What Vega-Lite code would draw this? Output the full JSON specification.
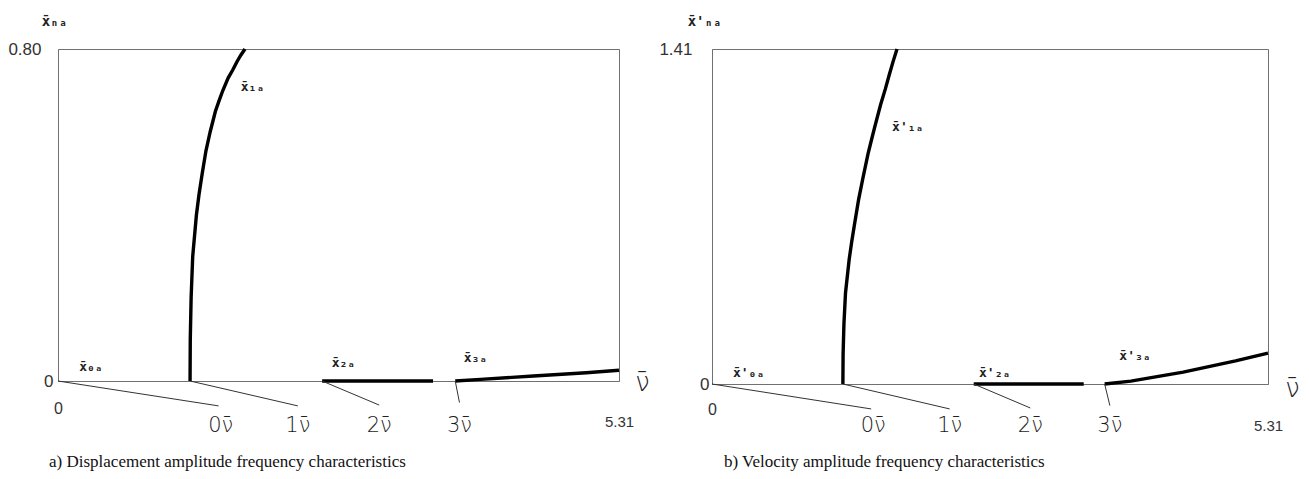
{
  "$schema": "https://vega.github.io/schema/vega-lite/v6.json",
  "padding": {"left": 7, "top": 13, "right": 5, "bottom": 5},
  "background": "white",
  "bounds": "flush",
  "spacing": 93,
  "config": {
    "view": {"stroke": "#707070", "strokeWidth": 1},
    "axis": {"grid": false, "ticks": false, "domainColor": "#707070", "domainWidth": 1, "labelFont": "Liberation Sans", "labelColor": "#333333", "labelFlush": false, "labelOverlap": false}
  },
  "datasets": {
    "dispCurves": [
      {"s": "x1a", "nu": 1.25, "amp": 0},
      {"s": "x1a", "nu": 1.252, "amp": 0.1},
      {"s": "x1a", "nu": 1.26, "amp": 0.2},
      {"s": "x1a", "nu": 1.275, "amp": 0.3},
      {"s": "x1a", "nu": 1.31, "amp": 0.4},
      {"s": "x1a", "nu": 1.335, "amp": 0.45},
      {"s": "x1a", "nu": 1.365, "amp": 0.5},
      {"s": "x1a", "nu": 1.4, "amp": 0.554},
      {"s": "x1a", "nu": 1.44, "amp": 0.6},
      {"s": "x1a", "nu": 1.49, "amp": 0.65},
      {"s": "x1a", "nu": 1.524, "amp": 0.675},
      {"s": "x1a", "nu": 1.56, "amp": 0.7},
      {"s": "x1a", "nu": 1.61, "amp": 0.73},
      {"s": "x1a", "nu": 1.655, "amp": 0.75},
      {"s": "x1a", "nu": 1.695, "amp": 0.77},
      {"s": "x1a", "nu": 1.73, "amp": 0.785},
      {"s": "x1a", "nu": 1.77, "amp": 0.8},
      {"s": "x2a", "nu": 2.5, "amp": 0},
      {"s": "x2a", "nu": 3.55, "amp": 0},
      {"s": "x3a", "nu": 3.76, "amp": 0},
      {"s": "x3a", "nu": 4.0, "amp": 0.004},
      {"s": "x3a", "nu": 4.5, "amp": 0.012},
      {"s": "x3a", "nu": 5.0, "amp": 0.02},
      {"s": "x3a", "nu": 5.31, "amp": 0.026}
    ],
    "velCurves": [
      {"s": "x1a", "nu": 1.25, "amp": 0},
      {"s": "x1a", "nu": 1.252, "amp": 0.125},
      {"s": "x1a", "nu": 1.26, "amp": 0.252},
      {"s": "x1a", "nu": 1.275, "amp": 0.383},
      {"s": "x1a", "nu": 1.31, "amp": 0.524},
      {"s": "x1a", "nu": 1.335, "amp": 0.601},
      {"s": "x1a", "nu": 1.365, "amp": 0.683},
      {"s": "x1a", "nu": 1.4, "amp": 0.776},
      {"s": "x1a", "nu": 1.44, "amp": 0.864},
      {"s": "x1a", "nu": 1.49, "amp": 0.969},
      {"s": "x1a", "nu": 1.524, "amp": 1.029},
      {"s": "x1a", "nu": 1.56, "amp": 1.092},
      {"s": "x1a", "nu": 1.61, "amp": 1.175},
      {"s": "x1a", "nu": 1.655, "amp": 1.241},
      {"s": "x1a", "nu": 1.695, "amp": 1.305},
      {"s": "x1a", "nu": 1.73, "amp": 1.358},
      {"s": "x1a", "nu": 1.767, "amp": 1.41},
      {"s": "x2a", "nu": 2.5, "amp": 0},
      {"s": "x2a", "nu": 3.55, "amp": 0},
      {"s": "x3a", "nu": 3.75, "amp": 0},
      {"s": "x3a", "nu": 4.0, "amp": 0.012},
      {"s": "x3a", "nu": 4.5, "amp": 0.05},
      {"s": "x3a", "nu": 5.0, "amp": 0.097},
      {"s": "x3a", "nu": 5.31, "amp": 0.13}
    ],
    "dispGuides": [
      {"nu": 0, "amp": 0, "nu2": 1.52, "amp2": -0.06},
      {"nu": 1.25, "amp": 0, "nu2": 2.27, "amp2": -0.06},
      {"nu": 2.5, "amp": 0, "nu2": 3.04, "amp2": -0.058},
      {"nu": 3.76, "amp": 0, "nu2": 3.8, "amp2": -0.052}
    ],
    "velGuides": [
      {"nu": 0, "amp": 0, "nu2": 1.52, "amp2": -0.105},
      {"nu": 1.25, "amp": 0, "nu2": 2.27, "amp2": -0.105},
      {"nu": 2.5, "amp": 0, "nu2": 3.04, "amp2": -0.101},
      {"nu": 3.75, "amp": 0, "nu2": 3.8, "amp2": -0.091}
    ],
    "dispNuLabels": [
      {"nu": 1.54, "amp": -0.108, "label": "0ν̄"},
      {"nu": 2.27, "amp": -0.108, "label": "1ν̄"},
      {"nu": 3.04, "amp": -0.108, "label": "2ν̄"},
      {"nu": 3.8, "amp": -0.108, "label": "3ν̄"}
    ],
    "velNuLabels": [
      {"nu": 1.54, "amp": -0.177, "label": "0ν̄"},
      {"nu": 2.27, "amp": -0.177, "label": "1ν̄"},
      {"nu": 3.04, "amp": -0.177, "label": "2ν̄"},
      {"nu": 3.8, "amp": -0.177, "label": "3ν̄"}
    ],
    "dispCurveLabels": [
      {"nu": 1.73, "amp": 0.708, "label": "x̄₁ₐ"},
      {"nu": 0.2, "amp": 0.034, "label": "x̄₀ₐ"},
      {"nu": 2.59, "amp": 0.043, "label": "x̄₂ₐ"},
      {"nu": 3.84, "amp": 0.055, "label": "x̄₃ₐ"}
    ],
    "velCurveLabels": [
      {"nu": 1.72, "amp": 1.08, "label": "x̄'₁ₐ"},
      {"nu": 0.2, "amp": 0.046, "label": "x̄'₀ₐ"},
      {"nu": 2.55, "amp": 0.046, "label": "x̄'₂ₐ"},
      {"nu": 3.89, "amp": 0.118, "label": "x̄'₃ₐ"}
    ]
  },
  "hconcat": [
    {
      "width": 561,
      "height": 332,
      "title": {"text": "a) Displacement amplitude frequency characteristics", "orient": "bottom", "anchor": "start", "frame": "group", "dx": -9, "offset": 18, "font": "Liberation Serif", "fontSize": 17, "fontWeight": "normal", "color": "#111111"},
      "layer": [
        {
          "data": {"name": "dispCurves"},
          "mark": {"type": "line", "color": "#000000", "strokeWidth": 3.4},
          "encoding": {
            "x": {"field": "nu", "type": "quantitative", "scale": {"domain": [0, 5.31], "nice": false, "zero": false},
              "axis": {"values": [0, 5.31], "labelExpr": "datum.value === 0 ? '0' : '5.31'",
                "labelPadding": {"condition": {"test": "datum.value === 0", "value": 19}, "value": 33},
                "labelFontSize": {"condition": {"test": "datum.value === 0", "value": 16}, "value": 15},
                "title": "ν̄", "titleX": 584, "titleY": 1, "titleAlign": "center", "titleBaseline": "middle", "titleFont": "DejaVu Sans", "titleFontSize": 26, "titleFontWeight": 200, "titleColor": "#222222"}},
            "y": {"field": "amp", "type": "quantitative", "scale": {"domain": [0, 0.8], "nice": false},
              "axis": {"values": [0, 0.8], "labelExpr": "datum.value === 0 ? '0' : '0.80'",
                "labelPadding": {"condition": {"test": "datum.value === 0", "value": 5}, "value": 17},
                "labelFontSize": 17,
                "title": "x̄ₙₐ", "titleAngle": 0, "titleX": -4, "titleY": -28, "titleAlign": "center", "titleBaseline": "middle", "titleFont": "DejaVu Sans Mono", "titleFontSize": 14, "titleFontWeight": "bold", "titleColor": "#222222"}},
            "detail": {"field": "s"},
            "order": {"field": "amp"}
          }
        },
        {
          "data": {"name": "dispGuides"},
          "mark": {"type": "rule", "color": "#333333", "strokeWidth": 1},
          "encoding": {"x": {"field": "nu", "type": "quantitative"}, "y": {"field": "amp", "type": "quantitative"}, "x2": {"field": "nu2"}, "y2": {"field": "amp2"}}
        },
        {
          "data": {"name": "dispNuLabels"},
          "mark": {"type": "text", "font": "DejaVu Sans", "fontSize": 21, "fontWeight": 200, "color": "#1a1a1a", "align": "center", "baseline": "middle"},
          "encoding": {"x": {"field": "nu", "type": "quantitative"}, "y": {"field": "amp", "type": "quantitative"}, "text": {"field": "label"}}
        },
        {
          "data": {"name": "dispCurveLabels"},
          "mark": {"type": "text", "font": "DejaVu Sans Mono", "fontSize": 13, "fontWeight": "bold", "color": "#222222", "align": "left", "baseline": "middle"},
          "encoding": {"x": {"field": "nu", "type": "quantitative"}, "y": {"field": "amp", "type": "quantitative"}, "text": {"field": "label"}}
        },
        {
          "mark": {"type": "point", "shape": "triangle-up", "filled": true, "size": 14, "color": "#707070", "yOffset": -5},
          "encoding": {"x": {"datum": 0}, "y": {"datum": 0.8}}
        },
        {
          "mark": {"type": "point", "shape": "triangle-right", "filled": true, "size": 14, "color": "#707070", "xOffset": 6},
          "encoding": {"x": {"datum": 5.31}, "y": {"datum": 0}}
        }
      ]
    },
    {
      "width": 556,
      "height": 335,
      "title": {"text": "b) Velocity amplitude frequency characteristics", "orient": "bottom", "anchor": "start", "frame": "group", "dx": 12, "offset": 18, "font": "Liberation Serif", "fontSize": 17, "fontWeight": "normal", "color": "#111111"},
      "layer": [
        {
          "data": {"name": "velCurves"},
          "mark": {"type": "line", "color": "#000000", "strokeWidth": 3.4},
          "encoding": {
            "x": {"field": "nu", "type": "quantitative", "scale": {"domain": [0, 5.31], "nice": false, "zero": false},
              "axis": {"values": [0, 5.31], "labelExpr": "datum.value === 0 ? '0' : '5.31'",
                "labelPadding": {"condition": {"test": "datum.value === 0", "value": 17}, "value": 34},
                "labelFontSize": {"condition": {"test": "datum.value === 0", "value": 16}, "value": 15},
                "title": "ν̄", "titleX": 580, "titleY": 4, "titleAlign": "center", "titleBaseline": "middle", "titleFont": "DejaVu Sans", "titleFontSize": 26, "titleFontWeight": 200, "titleColor": "#222222"}},
            "y": {"field": "amp", "type": "quantitative", "scale": {"domain": [0, 1.41], "nice": false},
              "axis": {"values": [0, 1.41], "labelExpr": "datum.value === 0 ? '0' : '1.41'",
                "labelPadding": {"condition": {"test": "datum.value === 0", "value": 3}, "value": 20},
                "labelFontSize": 17,
                "title": "x̄'ₙₐ", "titleAngle": 0, "titleX": -8, "titleY": -28, "titleAlign": "center", "titleBaseline": "middle", "titleFont": "DejaVu Sans Mono", "titleFontSize": 14, "titleFontWeight": "bold", "titleColor": "#222222"}},
            "detail": {"field": "s"},
            "order": {"field": "amp"}
          }
        },
        {
          "data": {"name": "velGuides"},
          "mark": {"type": "rule", "color": "#333333", "strokeWidth": 1},
          "encoding": {"x": {"field": "nu", "type": "quantitative"}, "y": {"field": "amp", "type": "quantitative"}, "x2": {"field": "nu2"}, "y2": {"field": "amp2"}}
        },
        {
          "data": {"name": "velNuLabels"},
          "mark": {"type": "text", "font": "DejaVu Sans", "fontSize": 21, "fontWeight": 200, "color": "#1a1a1a", "align": "center", "baseline": "middle"},
          "encoding": {"x": {"field": "nu", "type": "quantitative"}, "y": {"field": "amp", "type": "quantitative"}, "text": {"field": "label"}}
        },
        {
          "data": {"name": "velCurveLabels"},
          "mark": {"type": "text", "font": "DejaVu Sans Mono", "fontSize": 13, "fontWeight": "bold", "color": "#222222", "align": "left", "baseline": "middle"},
          "encoding": {"x": {"field": "nu", "type": "quantitative"}, "y": {"field": "amp", "type": "quantitative"}, "text": {"field": "label"}}
        },
        {
          "mark": {"type": "point", "shape": "triangle-up", "filled": true, "size": 14, "color": "#707070", "yOffset": -5},
          "encoding": {"x": {"datum": 0}, "y": {"datum": 1.41}}
        },
        {
          "mark": {"type": "point", "shape": "triangle-right", "filled": true, "size": 14, "color": "#707070", "xOffset": 6},
          "encoding": {"x": {"datum": 5.31}, "y": {"datum": 0}}
        }
      ]
    }
  ]
}
